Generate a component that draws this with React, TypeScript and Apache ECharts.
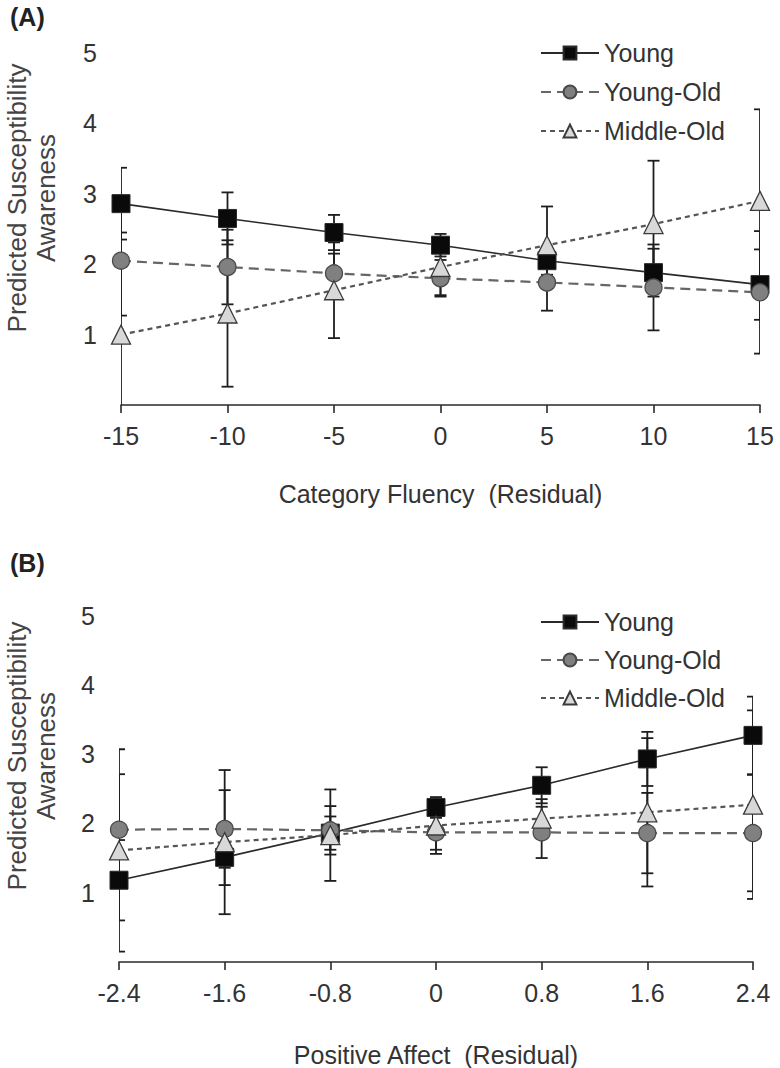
import React, { useEffect, useRef } from "react";
import * as echarts from "echarts";

// ---------- Panel A: Category Fluency ----------
const fluencyX = [-15, -10, -5, 0, 5, 10, 15];
const fluencyYoung = [2.86, 2.65, 2.45, 2.27, 2.05, 1.88, 1.71];
const fluencyYoungOld = [2.05, 1.96, 1.87, 1.8, 1.74, 1.67, 1.6];
const fluencyMiddleOld = [1.0, 1.3, 1.63, 1.96, 2.27, 2.57, 2.9];
const fluencyYoungErr = [0.51, 0.37, 0.25, 0.16, 0.2, 0.34, 0.5];
const fluencyYoungOldErr = [0.78, 0.53, 0.28, 0.26, 0.4, 0.61, 0.87];
const fluencyMiddleOldErr = [1.45, 1.04, 0.68, 0.4, 0.55, 0.9, 1.3];

// ---------- Panel B: Positive Affect ----------
const affectX = [-2.4, -1.6, -0.8, 0, 0.8, 1.6, 2.4];
const affectYoung = [1.18, 1.51, 1.86, 2.23, 2.55, 2.93, 3.27];
const affectYoungOld = [1.91, 1.92, 1.9, 1.87, 1.87, 1.86, 1.86];
const affectMiddleOld = [1.61, 1.73, 1.83, 1.97, 2.07, 2.16, 2.27];
const affectYoungErr = [0.58, 0.4, 0.24, 0.15, 0.26, 0.39, 0.56];
const affectYoungOldErr = [0.8, 0.56, 0.35, 0.31, 0.37, 0.58, 0.84];
const affectMiddleOldErr = [1.46, 1.04, 0.66, 0.35, 0.28, 1.07, 1.36];

const yTicks = [0, 1, 2, 3, 4, 5];
const groupNames = ["Young", "Young-Old", "Middle-Old"];
const panelLabels = ["(A)", "(B)"];
const xTitles = ["Category Fluency  (Residual)", "Positive Affect  (Residual)"];
const yTitle = "Predicted Susceptibility\nAwareness";

const FONT = "'Liberation Sans', Arial, sans-serif";
const TXT = "#333333";

const styles = [
  {
    symbol: "rect",
    symbolSize: 18,
    line: { color: "#2a2a2a", width: 1.6, type: "solid" as any },
    item: { color: "#0a0a0a", borderColor: "#2a2a2a", borderWidth: 1 },
  },
  {
    symbol: "circle",
    symbolSize: 17,
    line: { color: "#666666", width: 2.2, type: [10, 6] as any },
    item: { color: "#808080", borderColor: "#4a4a4a", borderWidth: 1.3 },
  },
  {
    symbol: "triangle",
    symbolSize: 19,
    line: { color: "#555555", width: 2.2, type: [5, 4] as any },
    item: { color: "#d8d8d8", borderColor: "#3a3a3a", borderWidth: 1.3 },
  },
];

function errRender(params: any, api: any) {
  const x = api.value(0);
  const lo = api.value(1);
  const hi = api.value(2);
  const pLo = api.coord([x, lo]);
  const pHi = api.coord([x, hi]);
  const half = 6;
  const st = { stroke: "#1e1e1e", lineWidth: 1.8 };
  return {
    type: "group",
    children: [
      { type: "line", shape: { x1: pLo[0], y1: pHi[1], x2: pLo[0], y2: pLo[1] }, style: st },
      { type: "line", shape: { x1: pHi[0] - half, y1: pHi[1], x2: pHi[0] + half, y2: pHi[1] }, style: st },
      { type: "line", shape: { x1: pLo[0] - half, y1: pLo[1], x2: pLo[0] + half, y2: pLo[1] }, style: st },
    ],
  };
}

function buildSeries(idx: number, xs: number[], ys: number[][], errs: number[][]) {
  const out: any[] = [];
  ys.forEach((vals, k) => {
    out.push({
      type: "custom",
      name: groupNames[k] + " error " + idx,
      xAxisIndex: idx,
      yAxisIndex: idx,
      clip: true,
      z: 1,
      renderItem: errRender,
      encode: { x: 0, y: [1, 2] },
      data: xs.map((x, i) => [x, vals[i] - errs[k][i], vals[i] + errs[k][i]]),
    });
  });
  ys.forEach((vals, k) => {
    const s = styles[k];
    out.push({
      type: "line",
      name: groupNames[k],
      xAxisIndex: idx,
      yAxisIndex: idx,
      z: 3 + k,
      symbol: s.symbol,
      symbolSize: s.symbolSize,
      showAllSymbol: true,
      lineStyle: s.line,
      itemStyle: s.item,
      data: xs.map((x, i) => [x, vals[i]]),
    });
  });
  return out;
}

export default function App() {
  const ref = useRef<HTMLDivElement>(null);
  useEffect(() => {
    if (!ref.current) return;
    const chart = echarts.init(ref.current, null, { renderer: "svg" });

    const yLabelFmt = (v: number) => (v === 0 ? "" : String(v));
    const yAxisBase = (gi: number) => ({
      type: "value",
      gridIndex: gi,
      min: yTicks[0],
      max: yTicks[yTicks.length - 1],
      interval: 1,
      axisLine: { show: false },
      axisTick: { show: false },
      splitLine: { show: false },
      axisLabel: {
        formatter: yLabelFmt,
        fontSize: 25,
        color: TXT,
        fontFamily: FONT,
        margin: 24,
      },
    });
    const xAxisBase = (gi: number) => ({
      type: "value",
      gridIndex: gi,
      axisLine: { lineStyle: { color: "#2a2a2a", width: 1.6 } },
      axisTick: { show: true, length: 8, lineStyle: { color: "#2a2a2a", width: 1.6 } },
      splitLine: { show: false },
      nameLocation: "middle",
      nameTextStyle: { fontSize: 25, color: TXT, fontFamily: FONT },
    });

    const legendBase = (top: number, gap: number) => ({
      orient: "vertical",
      left: 540,
      top,
      padding: 0,
      itemGap: gap,
      itemWidth: 58,
      itemHeight: 16,
      data: groupNames,
      selectedMode: false,
      textStyle: { fontSize: 25, lineHeight: 26, color: TXT, fontFamily: FONT },
    });

    const yTitleText = (y: number) => ({
      type: "text",
      x: 31,
      y,
      rotation: Math.PI / 2,
      style: {
        text: yTitle,
        font: `26px ${FONT}`,
        fill: "#444",
        align: "center",
        verticalAlign: "middle",
        lineHeight: 29,
      },
    });

    const option: any = {
      animation: false,
      backgroundColor: "#ffffff",
      grid: [
        { left: 121, right: 20, top: 53, height: 352 },
        { left: 119, right: 27, top: 615.5, height: 346.5 },
      ],
      xAxis: [
        {
          ...xAxisBase(0),
          min: -15,
          max: 15,
          interval: 5,
          name: xTitles[0],
          nameGap: 76,
          axisLabel: { fontSize: 25, color: TXT, fontFamily: FONT, margin: 18 },
        },
        {
          ...xAxisBase(1),
          min: -2.4,
          max: 2.4,
          interval: 0.8,
          name: xTitles[1],
          nameGap: 80,
          axisLabel: {
            fontSize: 25,
            color: TXT,
            fontFamily: FONT,
            margin: 18,
            formatter: (v: number) => (Math.abs(v) < 1e-9 ? "0" : v.toFixed(1)),
          },
        },
      ],
      yAxis: [yAxisBase(0), yAxisBase(1)],
      legend: [legendBase(40, 13), legendBase(609, 12)],
      graphic: [
        {
          type: "text",
          left: 10,
          top: 4,
          style: { text: panelLabels[0], font: `bold 25px ${FONT}`, fill: "#222" },
        },
        {
          type: "text",
          left: 10,
          top: 550,
          style: { text: panelLabels[1], font: `bold 25px ${FONT}`, fill: "#222" },
        },
        yTitleText(198),
        yTitleText(756),
      ],
      series: [
        ...buildSeries(
          0,
          fluencyX,
          [fluencyYoung, fluencyYoungOld, fluencyMiddleOld],
          [fluencyYoungErr, fluencyYoungOldErr, fluencyMiddleOldErr]
        ),
        ...buildSeries(
          1,
          affectX,
          [affectYoung, affectYoungOld, affectMiddleOld],
          [affectYoungErr, affectYoungOldErr, affectMiddleOldErr]
        ),
      ],
    };
    chart.setOption(option);
    return () => chart.dispose();
  }, []);

  return (
    <div
      ref={ref}
      style={{ position: "absolute", left: 0, top: 0, width: 780, height: 1068, background: "#fff" }}
    />
  );
}
